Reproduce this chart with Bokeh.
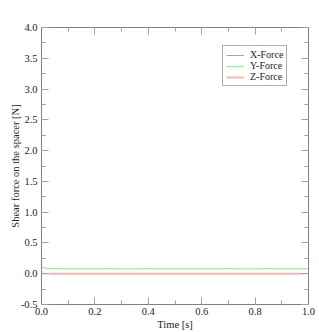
from bokeh.plotting import figure
from bokeh.models import (LinearAxis, SingleIntervalTicker, NumeralTickFormatter,
                          CustomJSTickFormatter, Range1d, Legend, LegendItem)
from bokeh.embed import file_html
from bokeh.resources import INLINE

# ---- data ----
time_x = [0.00, 0.05, 0.10, 0.15, 0.20, 0.25, 0.30, 0.35, 0.40, 0.45, 0.50,
          0.55, 0.60, 0.65, 0.70, 0.75, 0.80, 0.85, 0.90, 0.95, 1.00]
x_force = [0.000, 0.001, 0.000, 0.002, 0.000, 0.001, 0.000, 0.003, 0.000, 0.001, 0.000,
           0.002, 0.000, 0.001, 0.000, 0.001, 0.000, 0.004, 0.000, 0.001, 0.000]

time_y = [0.00, 0.01, 0.02, 0.04, 0.07, 0.10, 0.15, 0.20, 0.25, 0.30, 0.35, 0.40,
          0.45, 0.50, 0.55, 0.60, 0.65, 0.70, 0.75, 0.80, 0.85, 0.90, 0.95, 1.00]
y_force = [0.097, 0.095, 0.088, 0.083, 0.082, 0.081, 0.082, 0.081, 0.082, 0.081, 0.081, 0.082,
           0.081, 0.082, 0.081, 0.082, 0.081, 0.082, 0.081, 0.081, 0.082, 0.081, 0.082, 0.081]

time_z = [0.03, 0.10, 0.20, 0.30, 0.40, 0.50, 0.60, 0.70, 0.80, 0.90, 0.97]
z_force = [0.000, 0.000, 0.000, 0.000, 0.000, 0.000, 0.000, 0.000, 0.000, 0.000, 0.000]

series_names = ["X-Force", "Y-Force", "Z-Force"]
x_title = "Time [s]"
y_title = "Shear force on the spacer [N]"

FONT = "Liberation Serif"
AXIS_COL = "#808080"
TICK_COL = "#a0a0a0"

p = figure(width=319, height=332, output_backend="svg", toolbar_location=None,
           x_range=Range1d(0, 1), y_range=Range1d(-0.5, 4.0),
           x_axis_location=None, y_axis_location=None,
           min_border_left=41, min_border_right=11, min_border_top=27, min_border_bottom=10)
p.outline_line_color = None
p.xgrid.visible = False
p.ygrid.visible = False
p.background_fill_color = "white"
p.border_fill_color = "white"


def make_axis(interval, show_labels, title=None):
    ax = LinearAxis(ticker=SingleIntervalTicker(interval=interval, num_minor_ticks=2))
    ax.axis_line_color = AXIS_COL
    ax.axis_line_width = 1
    ax.major_tick_line_color = TICK_COL
    ax.minor_tick_line_color = TICK_COL
    ax.major_tick_in = 7
    ax.major_tick_out = 0
    ax.minor_tick_in = 4
    ax.minor_tick_out = 0
    ax.major_label_text_font = FONT
    ax.major_label_text_color = "#222222"
    ax.major_label_text_font_size = "10.5px"
    if show_labels:
        ax.formatter = NumeralTickFormatter(format="0.0")
    else:
        ax.formatter = CustomJSTickFormatter(code="return ''")
        ax.major_label_standoff = 0
    if title:
        ax.axis_label = title
        ax.axis_label_text_font = FONT
        ax.axis_label_text_font_style = "normal"
        ax.axis_label_text_font_size = "10.5px"
        ax.axis_label_text_color = "#222222"
        ax.axis_label_standoff = 1
    return ax


bottom = make_axis(0.2, True, x_title)
bottom.major_label_standoff = 3
left = make_axis(0.5, True, y_title)
left.major_label_standoff = 4
left.axis_label_standoff = -3
top = make_axis(0.2, False)
right = make_axis(0.5, False)
p.add_layout(bottom, "below")
p.add_layout(left, "left")
p.add_layout(top, "above")
p.add_layout(right, "right")

rx = p.line(time_x, x_force, line_color="#000000", line_alpha=0.35, line_width=1)
rz = p.line(time_z, z_force, line_color="#ffb4b4", line_width=2)
ry = p.line(time_y, y_force, line_color="#80ff80", line_width=1.2)

legend = Legend(items=[LegendItem(label=series_names[0], renderers=[rx]),
                       LegendItem(label=series_names[1], renderers=[ry]),
                       LegendItem(label=series_names[2], renderers=[rz])],
                location=(181, 218))
legend.label_text_font = FONT
legend.label_text_font_size = "10px"
legend.label_text_color = "#222222"
legend.label_height = 10
legend.glyph_height = 10
legend.glyph_width = 18
legend.label_standoff = 6
legend.spacing = 0
legend.padding = 3
legend.margin = 0
legend.border_line_color = "#606060"
legend.border_line_width = 1
legend.background_fill_alpha = 1
p.add_layout(legend, "center")

open("out.html", "w").write(file_html(p, INLINE))
